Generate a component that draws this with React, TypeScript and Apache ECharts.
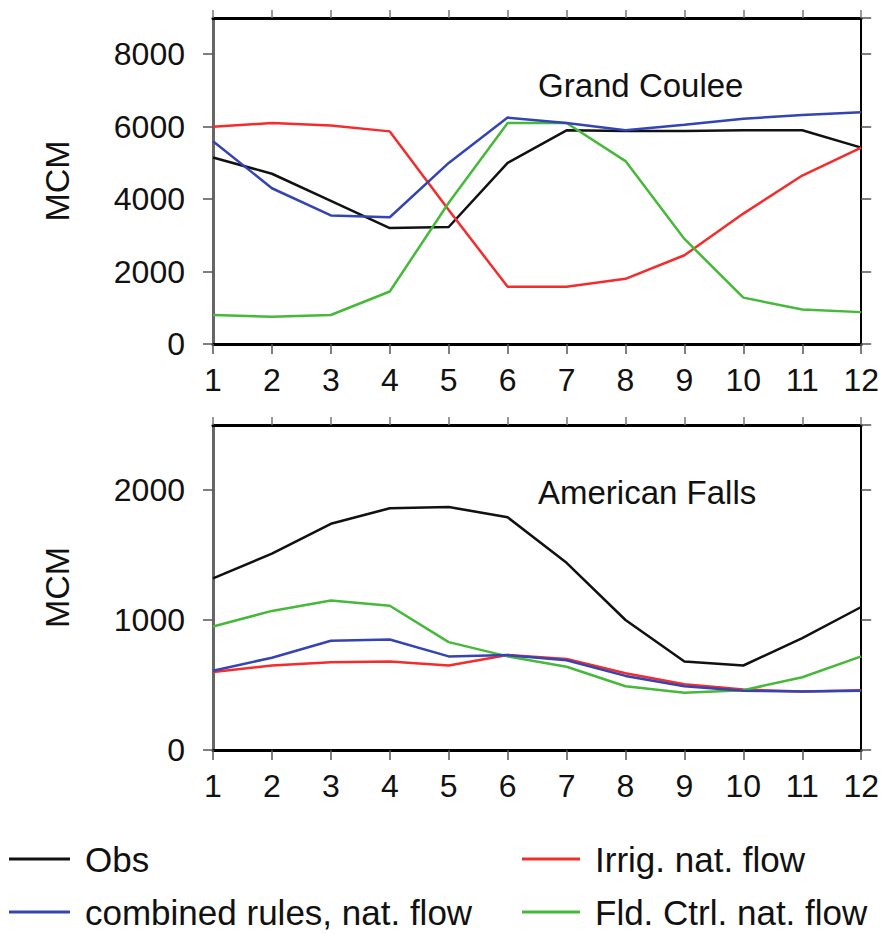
import React, { useEffect, useRef } from 'react';
import * as echarts from 'echarts';

const months = ['1', '2', '3', '4', '5', '6', '7', '8', '9', '10', '11', '12'];

// Grand Coulee (MCM)
const gcObs = [5150, 4700, 3950, 3200, 3230, 5000, 5900, 5880, 5880, 5900, 5900, 5420];
const gcCombined = [5600, 4300, 3550, 3500, 5000, 6250, 6100, 5900, 6050, 6220, 6320, 6400];
const gcIrrig = [6000, 6100, 6030, 5870, 3700, 1580, 1580, 1800, 2450, 3600, 4650, 5420];
const gcFldCtrl = [800, 750, 800, 1450, 3900, 6100, 6100, 5050, 2900, 1280, 950, 880];

// American Falls (MCM)
const afObs = [1320, 1510, 1740, 1860, 1870, 1790, 1440, 1000, 680, 650, 860, 1100];
const afCombined = [610, 710, 840, 850, 720, 730, 690, 570, 490, 455, 450, 455];
const afIrrig = [600, 650, 675, 680, 650, 730, 700, 590, 505, 465, 450, 460];
const afFldCtrl = [950, 1070, 1150, 1110, 830, 720, 640, 490, 440, 460, 560, 720];

const panelTitles = ['Grand Coulee', 'American Falls'];
const yMax = [9000, 2500];
const yInterval = [2000, 1000];
const yName = 'MCM';

const names = {
  obs: 'Obs',
  combined: 'combined rules, nat. flow',
  irrig: 'Irrig. nat. flow',
  fld: 'Fld. Ctrl. nat. flow',
};
const colors = {
  obs: '#111111',
  combined: '#3444b4',
  irrig: '#f42c2c',
  fld: '#46b93a',
};

const FONT = '"Liberation Sans", Arial, Helvetica, sans-serif';

function buildOption() {
  const grids = [
    { left: 213, right: 20, top: 18, height: 326 },
    { left: 213, right: 20, top: 425, height: 325 },
  ];
  const xAxes: any[] = [];
  const yAxes: any[] = [];
  grids.forEach((_, gi) => {
    xAxes.push({
      type: 'category',
      gridIndex: gi,
      data: months,
      boundaryGap: false,
      position: 'bottom',
      axisLine: { show: true, onZero: false, lineStyle: { color: '#000', width: 3 } },
      axisTick: { show: true, interval: 0, length: 10, lineStyle: { color: '#555', width: 1.5 } },
      axisLabel: { interval: 0, fontSize: 32, color: '#111', margin: 20, fontFamily: FONT },
      splitLine: { show: false },
    });
    xAxes.push({
      type: 'category',
      gridIndex: gi,
      data: months,
      boundaryGap: false,
      position: 'top',
      axisLine: { show: true, onZero: false, lineStyle: { color: '#000', width: 3 } },
      axisTick: { show: true, interval: 0, length: 8, lineStyle: { color: '#777', width: 1.5 } },
      axisLabel: { show: false },
      splitLine: { show: false },
    });
    yAxes.push({
      type: 'value',
      gridIndex: gi,
      position: 'left',
      min: 0,
      max: yMax[gi],
      interval: yInterval[gi],
      name: yName,
      nameLocation: 'middle',
      nameGap: 139,
      nameTextStyle: { fontSize: 34, color: '#111', fontFamily: FONT },
      axisLine: { show: true, onZero: false, lineStyle: { color: '#666', width: 3 } },
      axisTick: { show: true, length: 10, lineStyle: { color: '#555', width: 1.5 } },
      axisLabel: {
        fontSize: 32, color: '#111', margin: 28, showMaxLabel: false, fontFamily: FONT,
        formatter: (v: number) => String(v),
      },
      splitLine: { show: false },
    });
    yAxes.push({
      type: 'value',
      gridIndex: gi,
      position: 'right',
      min: 0,
      max: yMax[gi],
      interval: yInterval[gi],
      axisLine: { show: true, onZero: false, lineStyle: { color: '#000', width: 2 } },
      axisTick: { show: true, length: 10, lineStyle: { color: '#555', width: 1.5 } },
      axisLabel: { show: false },
      splitLine: { show: false },
    });
  });

  const mk = (key: keyof typeof names, data: number[], gi: number) => ({
    type: 'line',
    name: names[key],
    xAxisIndex: gi * 2,
    yAxisIndex: gi * 2,
    data,
    symbol: 'none',
    lineStyle: { color: colors[key], width: 2.5 },
    itemStyle: { color: colors[key] },
    emphasis: { disabled: true },
  });

  const series = [
    mk('obs', gcObs, 0),
    mk('irrig', gcIrrig, 0),
    mk('fld', gcFldCtrl, 0),
    mk('combined', gcCombined, 0),
    mk('obs', afObs, 1),
    mk('irrig', afIrrig, 1),
    mk('fld', afFldCtrl, 1),
    mk('combined', afCombined, 1),
  ];

  const legendText = { fontSize: 35, color: '#111', lineHeight: 40, padding: [0, 0, 0, 10], fontFamily: FONT };

  return {
    animation: false,
    backgroundColor: '#fff',
    textStyle: { fontFamily: FONT },
    title: [
      { text: panelTitles[0], left: 538, top: 69, padding: 0, textStyle: { fontSize: 33, fontWeight: 'normal', color: '#111', fontFamily: FONT } },
      { text: panelTitles[1], left: 538, top: 476, padding: 0, textStyle: { fontSize: 33, fontWeight: 'normal', color: '#111', fontFamily: FONT } },
    ],
    legend: [
      {
        orient: 'vertical', left: 9, top: 839, padding: 0, itemWidth: 61, itemHeight: 3, itemGap: 13,
        icon: 'rect', selectedMode: false, data: [names.obs, names.combined], textStyle: legendText,
      },
      {
        orient: 'vertical', left: 522, top: 839, padding: 0, itemWidth: 58, itemHeight: 3, itemGap: 13,
        icon: 'rect', selectedMode: false, data: [names.irrig, names.fld], textStyle: legendText,
      },
    ],
    grid: grids,
    xAxis: xAxes,
    yAxis: yAxes,
    series,
  };
}

export default function App() {
  const ref = useRef<HTMLDivElement>(null);
  useEffect(() => {
    if (!ref.current) return;
    const chart = echarts.init(ref.current, null, { renderer: 'svg' });
    chart.setOption(buildOption() as any);
    return () => chart.dispose();
  }, []);
  return (
    <div
      ref={ref}
      style={{ position: 'absolute', left: 0, top: 0, width: 882, height: 934, background: '#fff' }}
    />
  );
}
